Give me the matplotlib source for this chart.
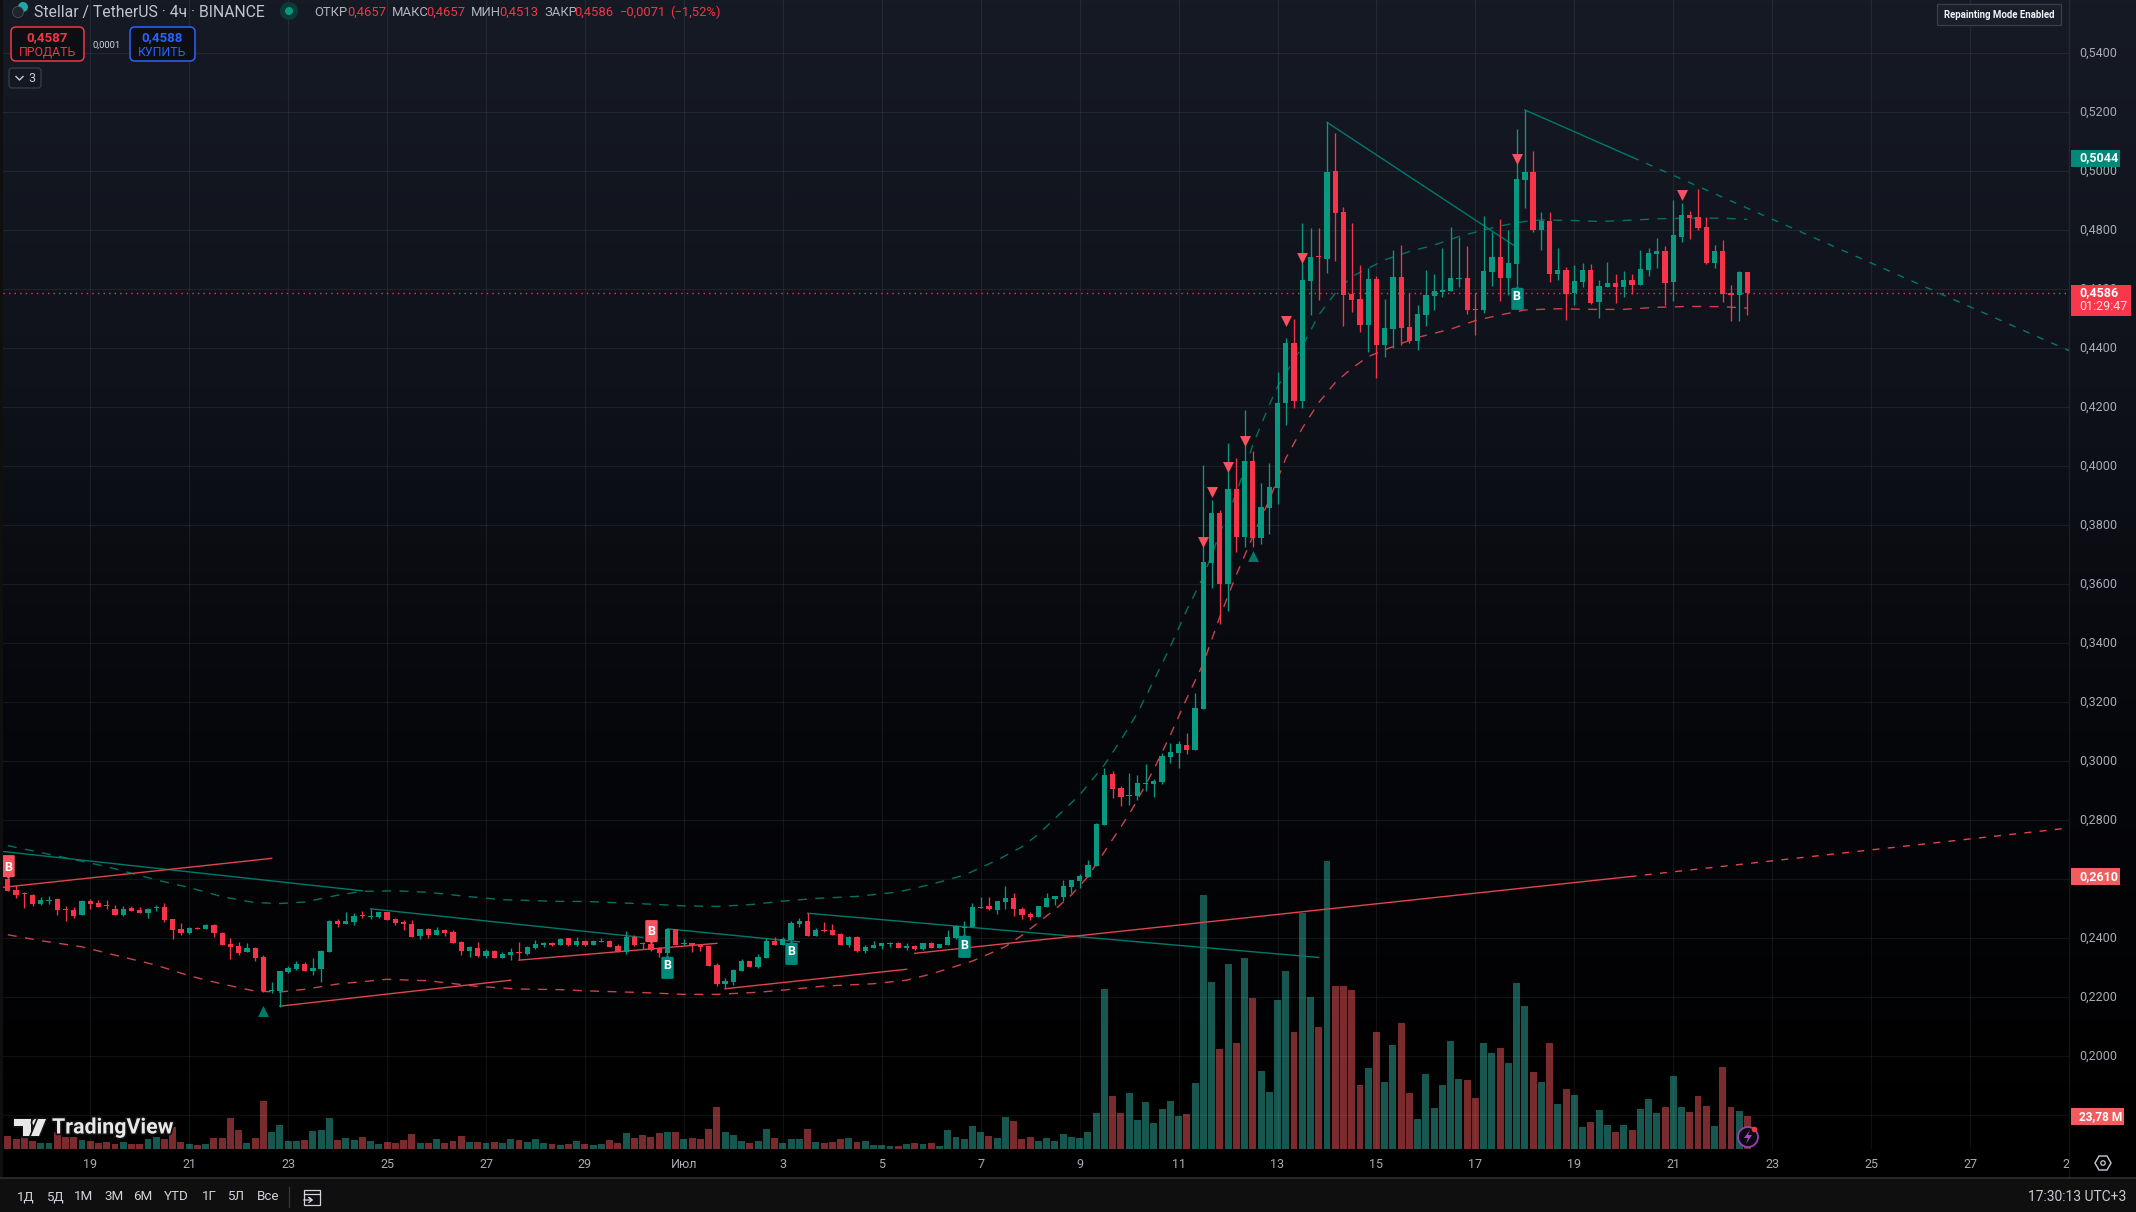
import numpy as np
import matplotlib
matplotlib.use('Agg')
import matplotlib.pyplot as plt
import matplotlib.patheffects as pe
from matplotlib.colors import LinearSegmentedColormap
from matplotlib.patches import Circle, FancyBboxPatch, Polygon, Rectangle

plt.rcParams['font.family'] = ['Roboto', 'DejaVu Sans']

# 4h candles, first bar is 17 June
opens = [
    .2600, .2564, .2550, .2547, .2516, .2527, .2532, .2498, .2496, .2480,
    .2525, .2518, .2510, .2501, .2479, .2503, .2496, .2487, .2504, .2505,
    .2465, .2431, .2418, .2434, .2433, .2445, .2418, .2379, .2373, .2355,
    .2367, .2336, .2220, .2221, .2287, .2296, .2312, .2289, .2297, .2355,
    .2457, .2448, .2455, .2478, .2472, .2472, .2488, .2464, .2455, .2448,
    .2408, .2431, .2411, .2428, .2421, .2387, .2358, .2367, .2340, .2356,
    .2333, .2343, .2352, .2348, .2367, .2378, .2383, .2378, .2401, .2377,
    .2390, .2377, .2387, .2390, .2374, .2355, .2404, .2383, .2381, .2367,
    .2349, .2430, .2382, .2383, .2377, .2374, .2309, .2245, .2252, .2289,
    .2323, .2303, .2333, .2390, .2377, .2394, .2448, .2459, .2408, .2428,
    .2428, .2414, .2377, .2404, .2357, .2367, .2375, .2381, .2383, .2367,
    .2374, .2363, .2383, .2367, .2377, .2401, .2436, .2438, .2504, .2508,
    .2496, .2523, .2535, .2498, .2481, .2472, .2506, .2533, .2540, .2574,
    .2595, .2609, .2645, .2785, .2957, .2910, .2883, .2883, .2923, .2923,
    .2930, .3015, .3028, .3055, .3039, .3177, .3672, .3842, .3601, .3923,
    .3761, .4018, .3757, .3859, .3927, .4216, .4418, .4222, .4628, .4710,
    .4703, .5001, .4862, .4584, .4567, .4479, .4635, .4411, .4466, .4642,
    .4472, .4425, .4513, .4578, .4592, .4594, .4635, .4639, .4532, .4530,
    .4659, .4710, .4639, .4686, .4971, .4998, .4801, .4832, .4652, .4666,
    .4587, .4625, .4666, .4557, .4608, .4622, .4608, .4632, .4615, .4666,
    .4720, .4730, .4625, .4778, .4852, .4845, .4811, .4689, .4730, .4588,
    .4581, .4657,
]
closes = [
    .2561, .2547, .2549, .2516, .2530, .2531, .2496, .2496, .2475, .2526,
    .2516, .2507, .2508, .2480, .2498, .2492, .2487, .2501, .2505, .2462,
    .2428, .2417, .2435, .2433, .2445, .2418, .2378, .2372, .2351, .2367,
    .2333, .2220, .2221, .2288, .2298, .2312, .2290, .2299, .2357, .2459,
    .2448, .2459, .2474, .2475, .2475, .2488, .2462, .2451, .2449, .2404,
    .2430, .2410, .2428, .2418, .2384, .2358, .2370, .2340, .2357, .2334,
    .2346, .2352, .2349, .2370, .2381, .2384, .2378, .2397, .2377, .2391,
    .2377, .2391, .2391, .2370, .2355, .2404, .2377, .2381, .2360, .2350,
    .2430, .2377, .2384, .2377, .2372, .2306, .2245, .2255, .2292, .2323,
    .2303, .2336, .2391, .2377, .2397, .2452, .2460, .2408, .2428, .2426,
    .2411, .2377, .2404, .2357, .2370, .2377, .2383, .2384, .2367, .2374,
    .2363, .2383, .2367, .2379, .2404, .2442, .2438, .2505, .2507, .2498,
    .2525, .2535, .2498, .2479, .2472, .2508, .2535, .2542, .2576, .2596,
    .2610, .2647, .2788, .2954, .2906, .2879, .2885, .2927, .2925, .2933,
    .3018, .3032, .3059, .3039, .3181, .3676, .3842, .3601, .3923, .3761,
    .4018, .3757, .3862, .3930, .4216, .4418, .4222, .4632, .4710, .4708,
    .4999, .4859, .4581, .4564, .4479, .4635, .4411, .4469, .4642, .4469,
    .4425, .4517, .4581, .4594, .4598, .4639, .4639, .4530, .4530, .4662,
    .4710, .4639, .4689, .4974, .4998, .4801, .4832, .4652, .4666, .4584,
    .4628, .4666, .4553, .4611, .4622, .4608, .4632, .4615, .4669, .4723,
    .4730, .4622, .4784, .4852, .4842, .4808, .4689, .4730, .4584, .4582,
    .4659, .4586,
]
highs = [
    .2600, .2581, .2558, .2549, .2541, .2543, .2538, .2509, .2505, .2530,
    .2532, .2530, .2530, .2512, .2508, .2509, .2505, .2504, .2512, .2518,
    .2465, .2451, .2437, .2439, .2447, .2447, .2422, .2400, .2388, .2383,
    .2372, .2342, .2251, .2290, .2307, .2324, .2320, .2332, .2360, .2461,
    .2464, .2488, .2485, .2494, .2498, .2490, .2490, .2470, .2462, .2462,
    .2431, .2436, .2439, .2431, .2428, .2391, .2374, .2386, .2363, .2362,
    .2355, .2366, .2387, .2375, .2394, .2387, .2386, .2402, .2402, .2404,
    .2394, .2394, .2402, .2394, .2381, .2425, .2410, .2387, .2387, .2369,
    .2433, .2430, .2397, .2383, .2379, .2375, .2315, .2264, .2295, .2329,
    .2324, .2347, .2400, .2404, .2403, .2459, .2470, .2485, .2434, .2454,
    .2448, .2417, .2407, .2408, .2377, .2391, .2385, .2388, .2386, .2383,
    .2377, .2383, .2386, .2382, .2428, .2445, .2459, .2518, .2540, .2540,
    .2526, .2577, .2552, .2507, .2488, .2509, .2552, .2543, .2598, .2598,
    .2618, .2664, .2790, .2978, .2967, .2916, .2960, .2954, .2991, .2940,
    .3027, .3062, .3069, .3096, .3232, .4005, .3886, .3852, .4079, .4028,
    .4191, .4052, .3944, .4011, .4321, .4435, .4500, .4824, .4808, .4808,
    .5166, .5130, .4879, .4824, .4683, .4671, .4645, .4567, .4734, .4750,
    .4588, .4547, .4666, .4652, .4740, .4811, .4778, .4747, .4588, .4849,
    .4795, .4839, .4801, .5144, .5208, .5069, .4862, .4862, .4740, .4676,
    .4683, .4689, .4686, .4632, .4693, .4652, .4662, .4652, .4734, .4740,
    .4774, .4747, .4903, .4893, .4866, .4940, .4845, .4750, .4767, .4615,
    .4662, .4657,
]
lows = [
    .2561, .2538, .2504, .2510, .2513, .2516, .2479, .2460, .2470, .2480,
    .2501, .2505, .2498, .2478, .2475, .2491, .2486, .2468, .2494, .2456,
    .2399, .2411, .2416, .2430, .2431, .2405, .2376, .2329, .2343, .2353,
    .2324, .2219, .2213, .2168, .2283, .2292, .2289, .2277, .2252, .2355,
    .2439, .2448, .2445, .2468, .2466, .2470, .2462, .2446, .2428, .2404,
    .2399, .2402, .2410, .2409, .2383, .2343, .2338, .2338, .2334, .2333,
    .2332, .2326, .2326, .2345, .2363, .2369, .2373, .2376, .2375, .2373,
    .2374, .2376, .2386, .2369, .2353, .2348, .2375, .2363, .2357, .2338,
    .2343, .2376, .2376, .2353, .2357, .2306, .2238, .2229, .2242, .2289,
    .2303, .2301, .2333, .2377, .2376, .2388, .2437, .2408, .2408, .2421,
    .2410, .2376, .2370, .2355, .2350, .2366, .2363, .2370, .2367, .2360,
    .2362, .2360, .2367, .2367, .2377, .2399, .2405, .2437, .2504, .2496,
    .2482, .2499, .2475, .2466, .2463, .2472, .2505, .2513, .2526, .2552,
    .2572, .2609, .2645, .2785, .2877, .2850, .2852, .2869, .2899, .2879,
    .2923, .2994, .2977, .3025, .3039, .3177, .3588, .3466, .3510, .3710,
    .3727, .3727, .3737, .3771, .3872, .4140, .4199, .4199, .4513, .4564,
    .4655, .4696, .4476, .4523, .4456, .4388, .4300, .4371, .4401, .4411,
    .4418, .4395, .4476, .4530, .4574, .4594, .4608, .4517, .4445, .4520,
    .4611, .4561, .4581, .4615, .4876, .4795, .4734, .4625, .4632, .4496,
    .4547, .4608, .4550, .4503, .4608, .4554, .4574, .4584, .4615, .4645,
    .4672, .4547, .4561, .4761, .4771, .4801, .4686, .4672, .4557, .4493,
    .4493, .4513,
]
# volume in millions, last one is the 23,78M tag
volumes = [
    9.4, 7.4, 8.6, 5.8, 4.3, 4.3, 12.5, 8.6, 8.6, 6.5,
    5.8, 4.1, 5.0, 3.6, 5.0, 3.6, 3.8, 7.2, 8.6, 7.2,
    15.9, 5.0, 3.6, 2.9, 3.6, 7.9, 7.9, 22.3, 13.7, 4.3,
    7.9, 34.6, 12.3, 17.3, 5.8, 5.8, 6.5, 13.0, 13.7, 22.3,
    6.5, 7.9, 6.5, 8.6, 5.8, 3.6, 5.0, 4.3, 6.5, 10.8,
    4.3, 4.3, 7.2, 4.3, 5.8, 9.4, 5.0, 5.0, 4.3, 5.0,
    4.3, 7.2, 6.5, 5.0, 7.2, 4.3, 3.6, 2.9, 3.6, 5.8,
    3.6, 2.9, 3.6, 6.5, 4.3, 11.5, 7.9, 10.1, 8.6, 11.5,
    12.3, 12.3, 7.2, 7.9, 7.2, 14.4, 30.3, 12.3, 10.1, 5.8,
    4.3, 5.8, 14.4, 7.9, 4.3, 7.2, 7.2, 14.4, 5.0, 4.3,
    5.0, 7.2, 7.9, 5.0, 5.8, 2.9, 2.9, 2.2, 2.2, 3.6,
    4.3, 3.6, 4.3, 2.2, 13.7, 8.6, 7.2, 16.6, 12.3, 9.4,
    7.9, 23.1, 20.2, 7.2, 8.6, 5.8, 7.9, 5.8, 10.8, 8.6,
    7.9, 12.3, 25.9, 115.3, 38.2, 25.9, 40.4, 20.9, 33.9, 18.7,
    28.8, 34.6, 23.8, 25.2, 47.6, 183.0, 120.3, 72.1, 133.3, 76.4,
    137.6, 108.8, 56.2, 41.1, 107.4, 128.3, 84.3, 170.1, 109.5, 87.9,
    207.5, 117.5, 117.5, 114.6, 46.1, 58.4, 84.3, 48.3, 74.9, 90.8,
    40.4, 21.6, 54.0, 29.5, 46.1, 77.8, 50.4, 49.7, 36.8, 76.4,
    69.2, 72.8, 62.0, 119.6, 103.0, 55.5, 48.3, 76.4, 32.4, 43.2,
    38.9, 15.9, 19.5, 28.1, 17.3, 12.3, 17.3, 13.7, 28.8, 36.0,
    25.9, 30.3, 52.6, 30.3, 26.7, 38.2, 31.0, 16.6, 59.1, 30.3,
    27.4, 23.78,
]

# dashed bands, (bar, price)
upper_band_bars = [0, 6, 12, 18, 22, 26, 30, 33, 36, 40, 43, 47, 51, 56, 60, 67, 70, 77, 82, 86, 90, 94, 98, 103,
                   108, 112, 116, 120, 123, 125, 130, 133, 135, 137, 139, 141, 143, 145, 147, 149, 151, 153, 154,
                   157, 159, 161, 163, 165, 167, 170, 173, 176, 179, 181, 184, 186, 190, 193, 196, 200, 204, 208, 211]
upper_band = [.2714, .2679, .2643, .2598, .2572, .2541, .2521, .2518, .2523, .2546, .2559, .2561, .2556, .2541, .2531,
              .2525, .2525, .2517, .2510, .2508, .2514, .2526, .2535, .2542, .2557, .2583, .2614, .2665, .2710, .2753,
              .2886, .2988, .3072, .3163, .3274, .3389, .3513, .3626, .3773, .3909, .4072, .4208, .4270, .4406, .4513,
              .4587, .4643, .4671, .4700, .4728, .4750, .4779, .4801, .4815, .4830, .4835, .4833, .4830, .4833, .4839,
              .4841, .4841, .4837]
lower_band_bars = [0, 4, 9, 13, 18, 22, 26, 30, 33, 36, 40, 46, 51, 57, 62, 67, 70, 77, 82, 86, 91, 95, 99, 105, 109,
                   112, 117, 119, 121, 123, 127, 129, 131, 136, 137, 139, 141, 143, 145, 147, 149, 151, 153, 155, 157,
                   159, 161, 163, 165, 168, 171, 175, 178, 181, 184, 188, 192, 196, 200, 204, 208, 211]
lower_band = [.2412, .2392, .2371, .2343, .2309, .2273, .2245, .2221, .2218, .2227, .2245, .2261, .2256, .2237, .2228,
              .2226, .2222, .2216, .2210, .2210, .2217, .2227, .2238, .2246, .2258, .2279, .2323, .2347, .2372, .2410,
              .2498, .2547, .2609, .2820, .2869, .2973, .3089, .3214, .3332, .3490, .3632, .3762, .3886, .4027, .4129,
              .4216, .4284, .4332, .4372, .4406, .4437, .4465, .4494, .4513, .4530, .4534, .4532, .4532, .4539, .4542,
              .4541, .4536]

# trend lines as (bar0, price0, bar1, price1)
green_trends = [(-0.5, .2694, 43, .2561), (44, .2500, 77, .2403), (80, .2432, 96, .2388), (97, .2485, 159, .2335),
                (160, .5166, 182.7, .4748), (184, .5208, 197, .5048)]
green_trend_ext = (197, .5048, 250, .4392)
red_trends = [(-0.5, .2573, 32, .2671), (33, .2170, 61, .2258), (62, .2326, 86, .2383), (87, .2229, 109, .2295),
              (110, .2349, 196.7, .2609)]
red_trend_ext = (196.7, .2609, 250, .2774)

sell_marks_bars = [145, 146, 148, 150, 155, 157, 183, 203]
sell_marks = [.3745, .3913, .3996, .4087, .4491, .4705, .5042, .4921]
buy_marks_bars = [31, 151]
buy_marks = [.2155, .3696]
red_b_bars = [0, 78]
red_b_prices = [.2640, .2422]
green_b_bars = [80, 95, 116, 183]
green_b_prices = [.2307, .2355, .2377, .4574]

price_ticks = [.18, .20, .22, .24, .26, .28, .30, .32, .34, .36, .38, .40, .42, .44, .46, .48, .50, .52, .54]
date_labels = ['19', '21', '23', '25', '27', '29', 'Июл', '3', '5', '7', '9', '11', '13', '15', '17', '19', '21',
               '23', '25', '27', '29']
range_buttons = ['1Д', '5Д', '1М', '3М', '6М', 'YTD', '1Г', '5Л', 'Все']

UP = '#089981'
DOWN = '#f7334a'
UP_VOL = '#17574f'
DOWN_VOL = '#7a2b2d'
UP_LINE = '#00796b'
DOWN_LINE = '#e0454d'
GRID = '#ffffff'
AXIS_TEXT = '#a9acb4'

W, H = 2136, 1212
PLOT_L, PLOT_R, PLOT_B = 3, 2069, 1149
BAR_W = 8.245
X0 = 7.8

# label shape with a small tip, down for the red ones and up for the green ones
TAG_DOWN = [(-.5, .95), (-.42, 1), (.42, 1), (.5, .95), (.5, -.72), (.42, -.78), (.12, -.78), (0, -1), (-.12, -.78),
            (-.42, -.78), (-.5, -.72)]
TAG_UP = [(x, -y) for x, y in TAG_DOWN]

fig = plt.figure(figsize=(W / 100, H / 100), dpi=100, facecolor='#000000')


def frac_rect(x0, y0, x1, y1):
    return [x0 / W, 1 - y1 / H, (x1 - x0) / W, (y1 - y0) / H]


# background gradient
bg = fig.add_axes(frac_rect(0, 0, W, PLOT_B))
bg.set_axis_off()
cmap = LinearSegmentedColormap.from_list('tv', ['#161a25', '#0f121a', '#05060a', '#000000'])
bg.imshow(np.linspace(0, 1, 256).reshape(-1, 1), aspect='auto', cmap=cmap)
bg.set_zorder(0)

ax = fig.add_axes(frac_rect(PLOT_L, 0, PLOT_R, PLOT_B))
ax.set_zorder(3)
ax.patch.set_visible(False)
ax.set_xlim((PLOT_L - X0) / BAR_W, (PLOT_R - X0) / BAR_W)
ax.set_ylim(.54 - (PLOT_B - 53.3) / 2950, .54 + 53.3 / 2950)

# volume pane shares the plot area
vax = fig.add_axes(frac_rect(PLOT_L, 0, PLOT_R, PLOT_B))
vax.set_zorder(2)
vax.patch.set_visible(False)
vax.set_axis_off()
vax.set_xlim(ax.get_xlim())
vax.set_ylim(0, PLOT_B * 23.78 / 33)

bars = np.arange(len(closes))
opens_a = np.array(opens)
closes_a = np.array(closes)
is_up = closes_a >= opens_a
colors = [UP if u else DOWN for u in is_up]
vol_colors = [UP_VOL if u else DOWN_VOL for u in is_up]

vax.bar(bars, volumes, width=0.84, color=vol_colors, linewidth=0)

# grid
for p in price_ticks:
    ax.axhline(p, color=GRID, alpha=0.065, lw=0.9, zorder=1)
tick_bars = [10 + 12 * k for k in range(len(date_labels))]
for b in tick_bars:
    ax.axvline(b, color=GRID, alpha=0.065, lw=0.9, zorder=1)

# bands
ax.plot(upper_band_bars, upper_band, color='#056f62', lw=1.0, ls=(0, (6.5, 6)), zorder=2)
ax.plot(lower_band_bars, lower_band, color='#c9434c', lw=1.0, ls=(0, (6.5, 6)), zorder=2)

# trends
for b0, p0, b1, p1 in green_trends:
    ax.plot([b0, b1], [p0, p1], color=UP_LINE, lw=1.0, zorder=2.5)
for b0, p0, b1, p1 in red_trends:
    ax.plot([b0, b1], [p0, p1], color=DOWN_LINE, lw=1.0, zorder=2.5)
ax.plot(green_trend_ext[0::2], green_trend_ext[1::2], color=UP_LINE, lw=1.0, ls=(0, (5, 6)), zorder=2.5)
ax.plot(red_trend_ext[0::2], red_trend_ext[1::2], color=DOWN_LINE, lw=1.0, ls=(0, (5, 6)), zorder=2.5)

# candles
ax.vlines(bars, lows, highs, colors=colors, lw=0.95, zorder=3)
body_h = np.maximum(np.abs(closes_a - opens_a), 0.00035)
ax.bar(bars, body_h, bottom=np.minimum(opens_a, closes_a), width=0.64, color=colors, linewidth=0, zorder=3.2)

# last price
ax.axhline(closes[-1], color=DOWN, lw=1.0, ls=(0, (1, 3)), zorder=3.5)

# signals
ax.scatter(sell_marks_bars, sell_marks, marker='v', s=62, color='#f7525f', linewidths=0, zorder=4)
ax.scatter(buy_marks_bars, buy_marks, marker='^', s=62, color='#00796b', linewidths=0, zorder=4)
ax.scatter(red_b_bars, red_b_prices, marker=TAG_DOWN, s=320, color='#f7525f', linewidths=0, zorder=4.5)
ax.scatter(green_b_bars, green_b_prices, marker=TAG_UP, s=320, color='#00897b', linewidths=0, zorder=4.5)
for b, p in zip(red_b_bars + green_b_bars, red_b_prices + green_b_prices):
    ax.text(b, p, 'B', color='white', fontsize=9, fontweight='bold', ha='center', va='center', zorder=5)

# price axis labels
ax.set_xticks([])
ax.set_yticks([])
for p in price_ticks:
    if p >= .2:
        ax.annotate(f'{p:.4f}'.replace('.', ','), xy=(1, p), xycoords=ax.get_yaxis_transform(), xytext=(7.2, 0),
                    textcoords='offset points', color=AXIS_TEXT, fontsize=9, ha='left', va='center',
                    annotation_clip=False)
for s in ax.spines.values():
    s.set_visible(False)

# time axis in its own strip so the last label gets cut off at the price scale
tax = fig.add_axes(frac_rect(PLOT_L, PLOT_B, PLOT_R, 1177))
tax.set_axis_off()
tax.set_zorder(3)
tax.set_xlim(ax.get_xlim())
tax.set_ylim(0, 1)
for b, lab in zip(tick_bars, date_labels):
    tax.text(b, 0.46, lab, color=AXIS_TEXT, fontsize=9, ha='center', va='center', clip_on=True)

# everything else is chrome, in pixel coordinates
ui = fig.add_axes([0, 0, 1, 1])
ui.set_zorder(6)
ui.patch.set_visible(False)
ui.set_axis_off()
ui.set_xlim(0, W)
ui.set_ylim(H, 0)

ui.add_patch(Rectangle((0, 1178), W, 34, fc='#0f0f0f', ec='none'))
ui.plot([0, W], [1177.5, 1177.5], color='#2e2e2e', lw=1.2)
ui.add_patch(Rectangle((0, 0), 3, 1178, fc='#0f0f0f', ec='none'))
ui.plot([PLOT_R, PLOT_R], [0, 1177], color='#ffffff', alpha=0.07, lw=1.0)


def label(x, y, s, color='#b2b5be', size=9, weight='normal', ha='left', **kw):
    return ui.text(x, y, s, color=color, fontsize=size, fontweight=weight, ha=ha, va='center', **kw)


def round_box(x0, y0, x1, y1, fc, ec, r=4, lw=1.0):
    ui.add_patch(FancyBboxPatch((x0 + r, y0 + r), x1 - x0 - 2 * r, y1 - y0 - 2 * r,
                                boxstyle=f'round,pad={r},rounding_size={r}', fc=fc, ec=ec, lw=lw))


# header
ui.add_patch(Circle((23, 7), 5, fc='#1fa6a6', ec='none'))
ui.add_patch(Circle((18, 12), 5.5, fc='#20242c', ec='#555a63', lw=0.5))
label(34, 12, 'Stellar / TetherUS · 4ч · BINANCE', size=11.3, color='#c2c5cc')
ui.add_patch(Circle((289, 11), 9, fc='#0b3a38', ec='none'))
ui.add_patch(Circle((289, 11), 4, fc='#089981', ec='none'))
ohlc_labels = [(314, 'ОТКР'), (391.5, 'МАКС'), (471, 'МИН'), (544, 'ЗАКР')]
ohlc_values = [(347.5, '0,4657'), (426.5, '0,4657'), (499, '0,4513'), (574, '0,4586'), (619.5, '−0,0071'),
               (670, '(−1,52%)')]
for x, s in ohlc_labels:
    label(x, 12.5, s, size=9.4)
for x, s in ohlc_values:
    label(x, 12.5, s, size=9.4, color='#f23645')

# buy / sell
round_box(11, 27, 84, 61, '#0c0e14', '#f23645', r=5, lw=1.1)
round_box(130, 27, 195, 61, '#0c0e14', '#2962ff', r=5, lw=1.1)
label(47.5, 38, '0,4587', color='#f23645', size=9.6, weight='bold', ha='center')
label(47.5, 52, 'ПРОДАТЬ', color='#f23645', size=8.8, ha='center')
label(162.5, 38, '0,4588', color='#2962ff', size=9.6, weight='bold', ha='center')
label(162.5, 52, 'КУПИТЬ', color='#2962ff', size=8.8, ha='center')
label(106.5, 45, '0,0001', color='#d1d4dc', size=6.8, ha='center')
round_box(9, 68, 41, 88, 'none', '#3a3e47', r=3, lw=0.9)
ui.plot([16, 19.5, 23], [76.5, 80, 76.5], color='#c8cbd2', lw=1.0)
label(32, 78, '3', color='#c8cbd2', size=9, ha='center')

# indicator badge
ui.add_patch(Rectangle((1937, 4), 124, 21, fc='#1b1f2a', ec='#3a3e4a', lw=0.9))
label(1999, 14.5, 'Repainting Mode Enabled', color='#f0f3fa', size=6.9, weight='bold', ha='center')

# price tags
ui.add_patch(Rectangle((2071, 150), 49, 17, fc='#00897b', ec='none'))
label(2079, 158, '0,5044', color='white', size=9, weight='bold')
ui.add_patch(Rectangle((2071, 285), 60, 31, fc='#f7374a', ec='none'))
label(2079, 293, '0,4586', color='white', size=9, weight='bold')
label(2079, 306, '01:29:47', color='#ffdfe2', size=9)
ui.add_patch(Rectangle((2071, 868), 49, 17, fc='#f25c5c', ec='none'))
label(2079, 876.5, '0,2610', color='white', size=9, weight='bold')
ui.add_patch(Rectangle((2071, 1108), 53, 17, fc='#f25c5c', ec='none'))
label(2079, 1116.5, '23,78 M', color='white', size=8.6, weight='bold')

# settings and clock
ui.add_patch(Polygon([(2095, 1163), (2099, 1156), (2107, 1156), (2111, 1163), (2107, 1170), (2099, 1170)],
                     closed=True, fc='none', ec='#c8cbd2', lw=1.0))
ui.add_patch(Circle((2103, 1163), 2.2, fc='none', ec='#c8cbd2', lw=0.9))
label(2126, 1197, '17:30:13 UTC+3', color='#c8cbd2', size=10, ha='right')

# bottom range buttons
for x, s in zip([26, 55, 84, 114, 143, 176, 209, 236, 268], range_buttons):
    label(x, 1197, s, color='#d1d4dc', size=9.6, ha='center')
ui.plot([289, 289], [1187, 1207], color='#3a3a3a', lw=0.9)
ui.add_patch(Rectangle((304, 1190), 16, 15, fc='none', ec='#d1d4dc', lw=0.9))
ui.plot([304, 320], [1194, 1194], color='#d1d4dc', lw=0.9)
ui.plot([304, 312, 309, 312, 309], [1200, 1200, 1197.5, 1200, 1202.5], color='#d1d4dc', lw=0.9)

# lightning button
ui.add_patch(Circle((1748, 1137), 10, fc='#0a0a10', ec='#9c3fb5', lw=1.3))
ui.add_patch(Polygon([(1750, 1130), (1744, 1138), (1748, 1138), (1746, 1144), (1752, 1135), (1748, 1135)],
                     closed=True, fc='#a649c0', ec='none'))
ui.add_patch(Circle((1754.5, 1129.5), 2.8, fc='#f23645', ec='none'))

# logo
stroke = [pe.withStroke(linewidth=2.5, foreground='#111111')]
ui.add_patch(Polygon([(14, 1119), (31, 1119), (31, 1136), (23, 1136), (23, 1126), (14, 1126)], closed=True,
                     fc='#e8e8e8', ec='none', path_effects=stroke))
ui.add_patch(Circle((36, 1122.5), 3.6, fc='#e8e8e8', ec='none', path_effects=stroke))
ui.add_patch(Polygon([(38, 1119), (46, 1119), (39, 1136), (31, 1136)], closed=True, fc='#e8e8e8', ec='none',
                     path_effects=stroke))
ui.text(52, 1128, 'TradingView', color='#e8e8e8', fontsize=15.4, fontweight='bold', ha='left', va='center',
        path_effects=stroke)

fig.savefig('out.png', dpi=100, facecolor=fig.get_facecolor())
